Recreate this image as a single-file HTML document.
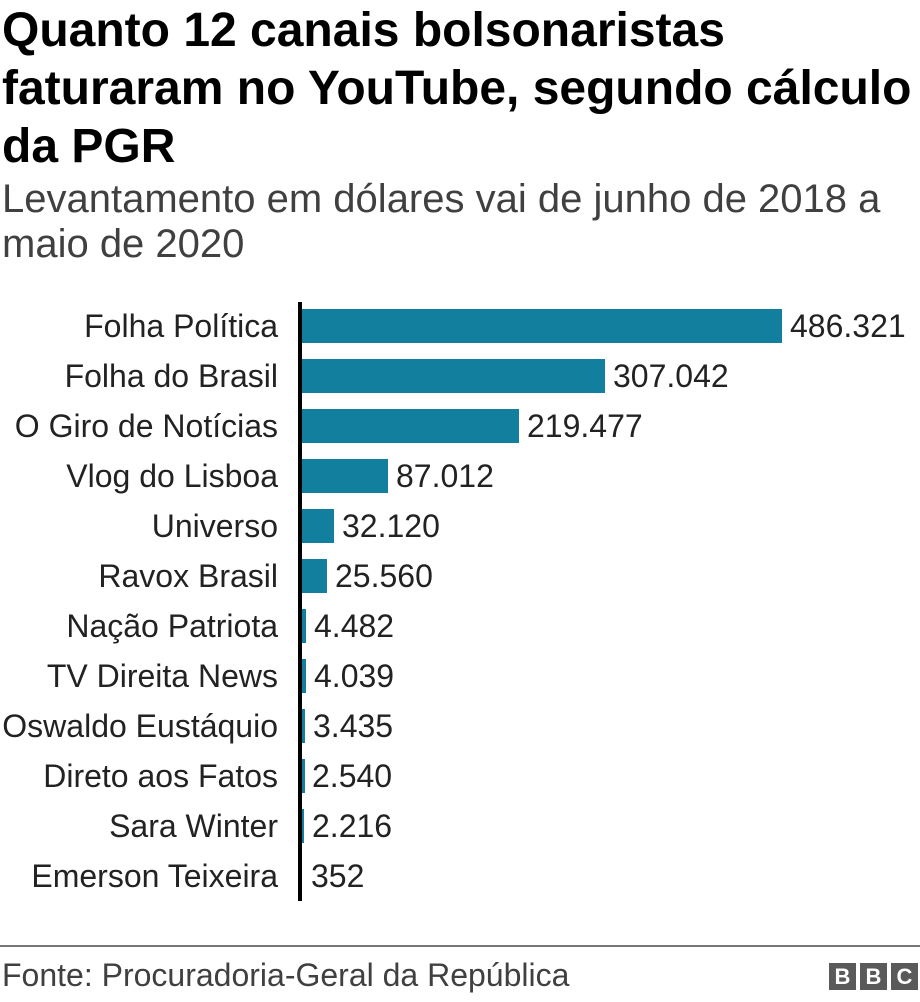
<!DOCTYPE html>
<html><head><meta charset="utf-8"><style>
body{margin:0;width:920px;height:1002px;background:#fff;font-family:"Liberation Sans",Arial,sans-serif;position:relative;overflow:hidden}
h1{position:absolute;left:2px;top:2px;margin:0;font-size:48px;line-height:58px;font-weight:bold;color:#000;white-space:nowrap}
.sub{position:absolute;left:2px;top:177px;font-size:40px;line-height:45px;color:#404040;white-space:nowrap}
.axis{position:absolute;left:298px;top:302px;width:4px;height:599px;background:#000}
.bar{position:absolute;left:302px;height:34px;background:#137f9f}
.lab{position:absolute;right:642px;font-size:32px;line-height:34px;color:#222;white-space:nowrap}
.val{position:absolute;font-size:32px;line-height:34px;color:#222}
.foot{position:absolute;left:0;top:945px;width:920px;height:2px;background:#777}
.src{position:absolute;left:2px;top:957px;font-size:32px;color:#404040}
.bbc{position:absolute;top:963px;width:27px;height:27px;background:#5a5a5a;color:#fff;font-weight:bold;font-size:22px;line-height:27px;text-align:center}
</style></head><body>
<h1>Quanto 12 canais bolsonaristas<br>faturaram no YouTube, segundo cálculo<br>da PGR</h1>
<div class="sub">Levantamento em dólares vai de junho de 2018 a<br>maio de 2020</div>
<div class="axis"></div>
<div class="lab" style="top:309px">Folha Política</div><div class="bar" style="top:309px;width:480px"></div><div class="val" style="top:309px;left:790px">486.321</div>
<div class="lab" style="top:359px">Folha do Brasil</div><div class="bar" style="top:359px;width:303px"></div><div class="val" style="top:359px;left:613px">307.042</div>
<div class="lab" style="top:409px">O Giro de Notícias</div><div class="bar" style="top:409px;width:217px"></div><div class="val" style="top:409px;left:527px">219.477</div>
<div class="lab" style="top:459px">Vlog do Lisboa</div><div class="bar" style="top:459px;width:86px"></div><div class="val" style="top:459px;left:396px">87.012</div>
<div class="lab" style="top:509px">Universo</div><div class="bar" style="top:509px;width:32px"></div><div class="val" style="top:509px;left:342px">32.120</div>
<div class="lab" style="top:559px">Ravox Brasil</div><div class="bar" style="top:559px;width:25px"></div><div class="val" style="top:559px;left:335px">25.560</div>
<div class="lab" style="top:609px">Nação Patriota</div><div class="bar" style="top:609px;width:4px"></div><div class="val" style="top:609px;left:314px">4.482</div>
<div class="lab" style="top:659px">TV Direita News</div><div class="bar" style="top:659px;width:4px"></div><div class="val" style="top:659px;left:314px">4.039</div>
<div class="lab" style="top:709px">Oswaldo Eustáquio</div><div class="bar" style="top:709px;width:3px"></div><div class="val" style="top:709px;left:313px">3.435</div>
<div class="lab" style="top:759px">Direto aos Fatos</div><div class="bar" style="top:759px;width:3px"></div><div class="val" style="top:759px;left:312px">2.540</div>
<div class="lab" style="top:809px">Sara Winter</div><div class="bar" style="top:809px;width:2px"></div><div class="val" style="top:809px;left:312px">2.216</div>
<div class="lab" style="top:859px">Emerson Teixeira</div><div class="val" style="top:859px;left:311px">352</div>
<div class="foot"></div>
<div class="src">Fonte: Procuradoria-Geral da República</div>
<div class="bbc" style="left:829px">B</div><div class="bbc" style="left:860px">B</div><div class="bbc" style="left:891px">C</div>
</body></html>
